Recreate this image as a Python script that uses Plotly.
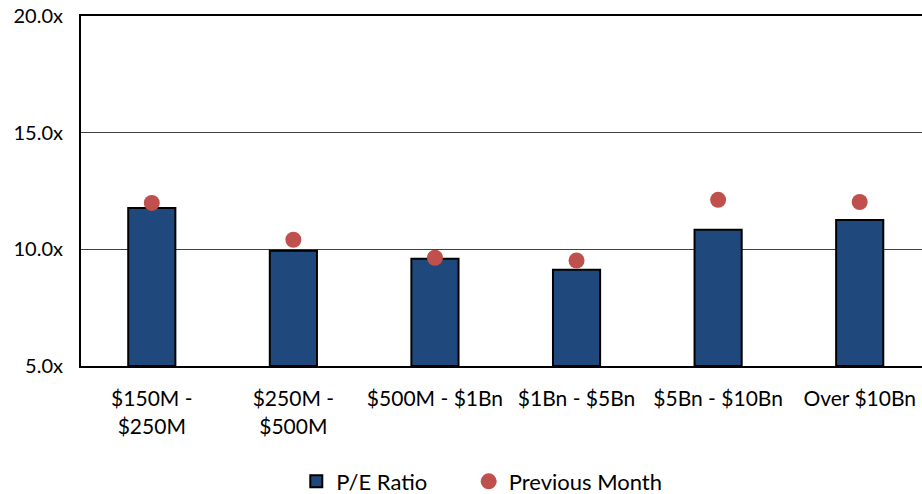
import plotly.graph_objects as go

categories = ["$150M -<br>$250M", "$250M -<br>$500M", "$500M - $1Bn", "$1Bn - $5Bn", "$5Bn - $10Bn", "Over $10Bn"]
pe_ratio = [11.77, 9.94, 9.60, 9.13, 10.84, 11.26]
previous_month = [11.99, 10.41, 9.64, 9.52, 12.12, 12.03]
y_ticks = [5, 10, 15, 20]
y_tick_labels = ["5.0x", "10.0x", "15.0x", "20.0x"]

FONT = "Lato, Carlito, Calibri, sans-serif"

fig = go.Figure()
fig.add_trace(go.Bar(
    x=categories, y=[v - 5 for v in pe_ratio], base=5, name="P/E Ratio",
    marker=dict(color="#1F497D", line=dict(color="black", width=2)),
    legend="legend",
))
fig.add_trace(go.Scatter(
    x=categories, y=previous_month, mode="markers", name="Previous Month",
    marker=dict(color="#C0504D", size=16, symbol="circle"),
    legend="legend2",
))

legend_common = dict(orientation="h", xanchor="left", y=-0.33, yanchor="middle",
                     font=dict(size=22), itemwidth=30, bgcolor="rgba(0,0,0,0)")

fig.update_layout(
    width=922, height=494,
    margin=dict(l=81, r=0, t=16, b=128, autoexpand=False),
    paper_bgcolor="white", plot_bgcolor="white",
    bargap=0.667,
    font=dict(family=FONT, size=20, color="black"),
    showlegend=True,
    legend=dict(x=0.256, **legend_common),
    legend2=dict(x=0.461, **legend_common),
)
fig.update_xaxes(
    range=[-0.5, 5.44], showline=True, linecolor="black", linewidth=2, mirror=True,
    showgrid=False, ticks="", ticklabelstandoff=13, tickfont=dict(size=21), automargin=False,
)
fig.update_yaxes(
    range=[5, 20], tickvals=y_ticks, ticktext=y_tick_labels,
    showline=True, linecolor="black", linewidth=2, mirror=False,
    showgrid=True, gridcolor="#404040", gridwidth=1, zeroline=False,
    ticks="", ticklabelstandoff=12, tickfont=dict(size=20), automargin=False,
)

fig.write_html("out.html", config={"displayModeBar": False},
               post_script="document.body.style.margin='0';")
